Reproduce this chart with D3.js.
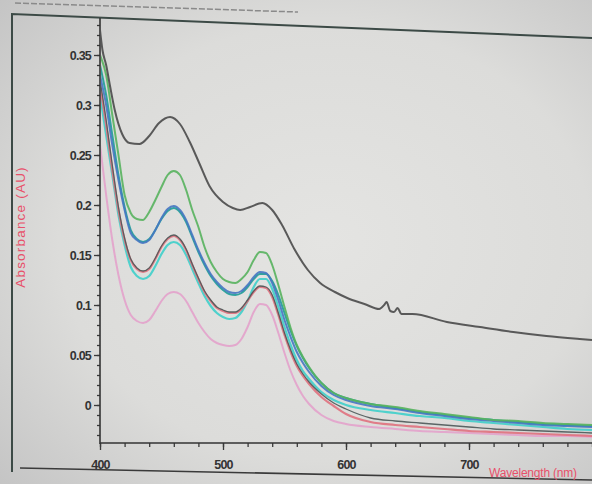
<!DOCTYPE html>
<html><head><meta charset="utf-8">
<script src="https://cdn.jsdelivr.net/npm/d3@7"></script>
<style>html,body{margin:0;padding:0;background:#d4d4d2;}svg{display:block;}</style>
</head><body><svg id="c" width="592" height="484"></svg>
<script>
// ---- data ----
const wavelengths = [400,405,410,415,420,425,430,435,440,445,450,455,460,465,470,475,480,485,490,495,500,505,510,515,520,525,530,535,540,545,550,555,560,565,570,580,590,600,620,640,660,680,700,720,740,760,780,800];
const greenValues = [0.35,0.33,0.29,0.25,0.21,0.192,0.186,0.185,0.193,0.205,0.218,0.23,0.234,0.23,0.215,0.195,0.178,0.158,0.143,0.133,0.126,0.123,0.122,0.126,0.133,0.145,0.153,0.152,0.140,0.12,0.098,0.077,0.06,0.048,0.038,0.022,0.012,0.007,0.001,-0.002,-0.006,-0.009,-0.012,-0.015,-0.016,-0.018,-0.019,-0.02];
const blueValues = [0.33,0.30,0.26,0.225,0.195,0.172,0.165,0.162,0.165,0.175,0.187,0.196,0.199,0.195,0.185,0.170,0.155,0.142,0.131,0.123,0.117,0.113,0.112,0.114,0.12,0.128,0.133,0.132,0.122,0.105,0.085,0.068,0.053,0.042,0.033,0.019,0.01,0.005,-0.001,-0.004,-0.008,-0.011,-0.014,-0.016,-0.018,-0.02,-0.021,-0.022];
const tealValues = [0.34,0.31,0.27,0.23,0.198,0.175,0.166,0.163,0.166,0.175,0.186,0.194,0.197,0.193,0.183,0.168,0.153,0.140,0.129,0.121,0.115,0.111,0.110,0.112,0.118,0.126,0.131,0.131,0.124,0.110,0.092,0.074,0.059,0.047,0.037,0.022,0.012,0.007,0.001,-0.003,-0.007,-0.010,-0.013,-0.015,-0.017,-0.019,-0.020,-0.021];
const redValues = [0.32,0.28,0.235,0.195,0.165,0.145,0.136,0.133,0.136,0.146,0.158,0.166,0.169,0.165,0.155,0.14,0.126,0.113,0.104,0.097,0.094,0.092,0.092,0.096,0.104,0.113,0.118,0.117,0.108,0.09,0.07,0.053,0.039,0.029,0.021,0.008,-0.001,-0.009,-0.017,-0.02,-0.022,-0.024,-0.026,-0.027,-0.028,-0.029,-0.030,-0.031];
const darkValues = [0.325,0.285,0.24,0.198,0.167,0.146,0.137,0.134,0.137,0.147,0.159,0.167,0.170,0.166,0.156,0.141,0.127,0.114,0.105,0.098,0.095,0.093,0.093,0.097,0.105,0.114,0.119,0.118,0.110,0.092,0.072,0.055,0.041,0.031,0.023,0.011,0.002,-0.004,-0.013,-0.016,-0.018,-0.02,-0.022,-0.024,-0.025,-0.026,-0.027,-0.028];
const cyanValues = [0.31,0.27,0.23,0.19,0.16,0.138,0.129,0.126,0.129,0.139,0.151,0.160,0.163,0.160,0.150,0.136,0.122,0.109,0.099,0.092,0.088,0.086,0.087,0.093,0.104,0.118,0.126,0.126,0.116,0.098,0.078,0.06,0.045,0.034,0.026,0.013,0.005,0.0,-0.005,-0.008,-0.011,-0.013,-0.016,-0.018,-0.020,-0.022,-0.024,-0.025];
const pinkValues = [0.26,0.21,0.165,0.13,0.105,0.09,0.084,0.082,0.085,0.094,0.104,0.111,0.113,0.111,0.104,0.093,0.082,0.073,0.066,0.062,0.060,0.059,0.06,0.066,0.078,0.093,0.101,0.1,0.09,0.072,0.052,0.034,0.02,0.009,0.001,-0.01,-0.016,-0.019,-0.022,-0.024,-0.026,-0.027,-0.028,-0.029,-0.030,-0.031,-0.031,-0.032];
const blackWavelengths = [400,402,405,408,412,418,424,432,440,448,457,465,473,481,489,500,508,514,522,532,540,548,558,569,579,591,601,615,627,631,633,636,639,642,645,654,682,709,736,763,790,800];
const blackValues = [0.375,0.355,0.34,0.32,0.295,0.271,0.262,0.261,0.269,0.282,0.288,0.281,0.263,0.241,0.219,0.203,0.197,0.195,0.198,0.202,0.195,0.180,0.156,0.135,0.122,0.113,0.107,0.101,0.096,0.100,0.103,0.094,0.093,0.097,0.091,0.091,0.083,0.078,0.073,0.069,0.066,0.065];
const yTickLabels = ["0","0.05","0.1","0.15","0.2","0.25","0.3","0.35"];
const xTickLabels = ["400","500","600","700"];

const series = [
  {name:"pink",  x:wavelengths, y:pinkValues,  color:"#e3a2cb", w:2},
  {name:"cyan",  x:wavelengths, y:cyanValues,  color:"#3fcfca", w:2.2},
  {name:"red",   x:wavelengths, y:redValues,   color:"#e0717e", w:2.2},
  {name:"dark",  x:wavelengths, y:darkValues,  color:"#4c5858", w:1.3},
  {name:"teal",  x:wavelengths, y:tealValues,  color:"#1f9c98", w:2},
  {name:"blue",  x:wavelengths, y:blueValues,  color:"#4677c2", w:2},
  {name:"green", x:wavelengths, y:greenValues, color:"#58b25e", w:2},
  {name:"black", x:blackWavelengths, y:blackValues, color:"#4a4a4a", w:2}
];

// ---- drawing ----
const svg = d3.select("#c");
const W = 592, H = 484;
const mLeft = 100, mRight = 592, mTop = 18, mBottom = 443;
const x = d3.scaleLinear().domain([400, 800]).range([mLeft, mRight]);
const y = d3.scaleLinear().domain([-0.038, 0.387]).range([mBottom, mTop]);

const defs = svg.append("defs");
const rg = defs.append("radialGradient").attr("id","bg").attr("cx","0.55").attr("cy","0.5").attr("r","0.75");
rg.append("stop").attr("offset","0").attr("stop-color","#e4e4e2");
rg.append("stop").attr("offset","0.6").attr("stop-color","#dcdcda");
rg.append("stop").attr("offset","1").attr("stop-color","#c4c4c4");
svg.append("rect").attr("width",W).attr("height",H).attr("fill","url(#bg)");
defs.append("clipPath").attr("id","clip").append("rect")
  .attr("x",mLeft+1).attr("y",mTop).attr("width",mRight-mLeft).attr("height",mBottom-mTop);

// frame (screen window border) - decorative
svg.append("line").attr("x1",15).attr("y1",3).attr("x2",298).attr("y2",12)
  .attr("stroke","#8a8a8a").attr("stroke-width",1.5).attr("stroke-dasharray","6,2");
svg.append("path").attr("d","M12,472 L12,14 L592,38").attr("fill","none").attr("stroke","#3c4a46").attr("stroke-width",2);
svg.append("line").attr("x1",20).attr("y1",468).attr("x2",592).attr("y2",480).attr("stroke","#3a3a3a").attr("stroke-width",1.6);

// axes
const yMajor = yTickLabels.map(Number);
const yAxis = d3.axisLeft(y).tickValues(yMajor).tickFormat((d,i)=>yTickLabels[i]).tickSize(6).tickPadding(3);
const yMinor = d3.axisLeft(y).tickValues(d3.range(-30, 381, 10).map(v=>v/1000)).tickFormat("").tickSize(3);
const xMajor = xTickLabels.map(Number);
const xAxis = d3.axisBottom(x).tickValues(xMajor).tickFormat((d,i)=>xTickLabels[i]).tickSize(7).tickPadding(10);
const xMinor = d3.axisBottom(x).tickValues(d3.range(400, 801, 20)).tickFormat("").tickSize(4);

function styleAxis(g){
  g.select(".domain").remove();
  g.selectAll("line").attr("stroke","#3a3a3a").attr("stroke-width",1.3);
  g.selectAll("text").attr("fill","#333").attr("font-family","Liberation Sans, Arial, sans-serif")
    .attr("font-size",12.5).attr("font-weight","bold").attr("letter-spacing","-0.8");
}
svg.append("g").attr("transform",`translate(${mLeft},0)`).call(yMinor).call(styleAxis);
svg.append("g").attr("transform",`translate(${mLeft},0)`).call(yAxis).call(styleAxis);
svg.append("g").attr("transform",`translate(0,${mBottom})`).call(xMinor).call(styleAxis);
svg.append("g").attr("transform",`translate(0,${mBottom})`).call(xAxis).call(styleAxis);

// axis lines
svg.append("line").attr("x1",mLeft).attr("y1",mTop).attr("x2",mLeft).attr("y2",mBottom+1).attr("stroke","#333").attr("stroke-width",1.6);
svg.append("line").attr("x1",mLeft).attr("y1",mBottom).attr("x2",mRight).attr("y2",mBottom).attr("stroke","#333").attr("stroke-width",1.6);

// lines
const line = d3.line().x(d=>x(d[0])).y(d=>y(d[1])).curve(d3.curveMonotoneX);
const gl = svg.append("g").attr("clip-path","url(#clip)");
series.forEach(s=>{
  const pts = s.x.map((w,i)=>[w, s.y[i]]);
  gl.append("path").datum(pts).attr("d",line).attr("fill","none")
    .attr("stroke",s.color).attr("stroke-width",s.w).attr("stroke-linejoin","round").attr("opacity",0.9);
});

// axis titles
svg.append("text").attr("transform","translate(25,227) rotate(-90)").attr("text-anchor","middle")
  .attr("fill","#e8506a").attr("font-family","Liberation Sans, Arial, sans-serif").attr("font-size",13.5)
  .attr("letter-spacing","1.2").text("Absorbance (AU)");
svg.append("text").attr("x",489).attr("y",477).attr("text-anchor","start")
  .attr("fill","#e8506a").attr("font-family","Liberation Sans, Arial, sans-serif").attr("font-size",12)
  .attr("letter-spacing","-0.2").text("Wavelength (nm)");
</script></body></html>
